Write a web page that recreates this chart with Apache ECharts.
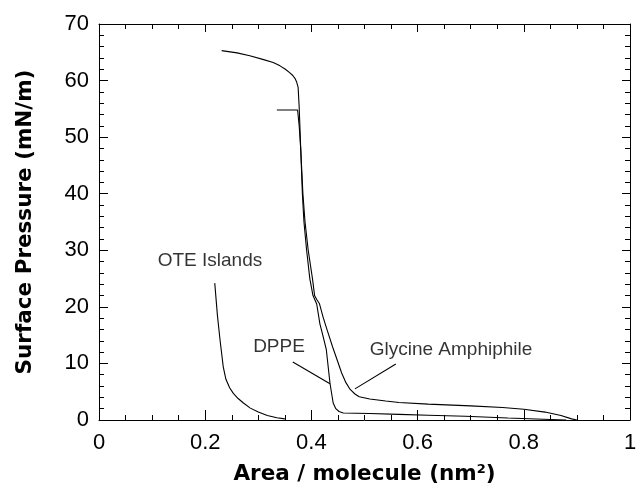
<!DOCTYPE html>
<html><head><meta charset="utf-8">
<script src="https://cdn.jsdelivr.net/npm/echarts/dist/echarts.min.js"></script>
<style>html,body{margin:0;padding:0;background:#fff}#c{width:637px;height:483px}</style>
</head><body><div id="c"></div>
<script>
// Tick values
const xTicks = [0, 0.2, 0.4, 0.6, 0.8, 1];
const yTicks = [0, 10, 20, 30, 40, 50, 60, 70];

// Glycine Amphiphile isotherm
const glyArea     = [0.231,0.26,0.284,0.31,0.328,0.341,0.351,0.359,0.365,0.369,0.372,0.375,0.377,0.380,0.384,0.388,0.394,0.402,0.406,0.41,0.415,0.422,0.43,0.44,0.45,0.457,0.465,0.473,0.482,0.49,0.51,0.54,0.565,0.62,0.7,0.76,0.8,0.84,0.87,0.89,0.9];
const glyPressure = [65.3,64.9,64.4,63.7,63.2,62.6,62.0,61.4,60.9,60.4,59.8,58.8,55.3,47.7,40,35,30,25,22,21.3,20.6,18.2,15.8,12.9,10.2,8.3,6.6,5.4,4.6,4.1,3.7,3.35,3.1,2.8,2.5,2.2,1.9,1.4,0.8,0.2,0];

// DPPE isotherm
const dppeArea     = [0.335,0.374,0.377,0.380,0.383,0.386,0.391,0.397,0.403,0.41,0.416,0.422,0.428,0.435,0.441,0.446,0.452,0.46,0.51,0.565,0.62,0.69,0.77,0.85,0.88];
const dppePressure = [54.8,54.8,52,47.7,40,35,30,25,22,20.5,17,14.8,12.5,6.5,3.0,2.0,1.5,1.25,1.15,1.0,0.85,0.65,0.35,0.1,0];

// OTE Islands isotherm
const oteArea     = [0.218,0.223,0.228,0.234,0.239,0.246,0.253,0.262,0.272,0.285,0.3,0.317,0.335,0.35];
const otePressure = [24.2,18.5,14.1,9.4,7.2,5.7,4.7,3.8,3.0,2.1,1.4,0.8,0.4,0.2];

// Annotations (data coordinates)
const labelText = ['OTE Islands', 'DPPE', 'Glycine Amphiphile'];
const labelArea = [0.209, 0.339, 0.663];
const labelPressure = [28.1, 12.9, 12.4];
const dppeLeaderArea = [0.365, 0.435];
const dppeLeaderPressure = [10.25, 6.4];
const glyLeaderArea = [0.559, 0.482];
const glyLeaderPressure = [9.9, 5.5];

const zip = (a, b) => a.map((v, i) => [v, b[i]]);
const xInt = xTicks[1] - xTicks[0];
const yInt = yTicks[1] - yTicks[0];

const lineBase = {type: 'line', showSymbol: false, symbol: 'none', silent: true,
  lineStyle: {color: '#000', width: 1.1}, animation: false};

function axis(extra) {
  return Object.assign({
    axisLine: {show: true, onZero: false, lineStyle: {color: '#000', width: 1}},
    splitLine: {show: false}
  }, extra);
}

const chart = echarts.init(document.getElementById('c'));
chart.setOption({
  animation: false,
  backgroundColor: '#fff',
  grid: {left: 99, right: 7, top: 24, bottom: 63, containLabel: false, outerBoundsMode: 'none'},
  xAxis: [
    axis({
      type: 'value', position: 'bottom', min: xTicks[0], max: xTicks[xTicks.length-1], interval: xInt,
      axisTick: {show: true, inside: true, length: 10, lineStyle: {color: '#000'}},
      minorTick: {show: true, splitNumber: 4, length: 5, lineStyle: {color: '#000'}},
      axisLabel: {color: '#000', fontSize: 22, fontFamily: 'Liberation Sans', margin: 12},
      name: 'Area / molecule (nm{sup|2})', nameLocation: 'middle', nameGap: 43,
      nameTextStyle: {color: '#000', fontSize: 21.5, fontWeight: 'bold', fontFamily: 'DejaVu Sans',
        rich: {sup: {fontSize: 13, fontWeight: 'bold', fontFamily: 'DejaVu Sans', color: '#000', verticalAlign: 'top', padding: [0,0,10,0]}}}
    }),
    axis({
      type: 'value', position: 'top', min: xTicks[0], max: xTicks[xTicks.length-1], interval: xInt,
      axisTick: {show: true, inside: true, length: 8, lineStyle: {color: '#000'}},
      minorTick: {show: true, splitNumber: 4, length: 5, lineStyle: {color: '#000'}},
      axisLabel: {show: false}
    })
  ],
  yAxis: [
    axis({
      type: 'value', position: 'left', min: yTicks[0], max: yTicks[yTicks.length-1], interval: yInt,
      axisTick: {show: true, inside: true, length: 9, lineStyle: {color: '#000'}},
      minorTick: {show: true, splitNumber: 5, length: 5, lineStyle: {color: '#000'}},
      axisLabel: {color: '#000', fontSize: 22, fontFamily: 'Liberation Sans', margin: 10},
      name: 'Surface Pressure (mN/m)', nameLocation: 'middle', nameGap: 63, nameRotate: 90,
      nameTextStyle: {color: '#000', fontSize: 21.5, fontWeight: 'bold', fontFamily: 'DejaVu Sans'}
    }),
    axis({
      type: 'value', position: 'right', min: yTicks[0], max: yTicks[yTicks.length-1], interval: yInt,
      axisTick: {show: true, inside: true, length: 8, lineStyle: {color: '#000'}},
      minorTick: {show: true, splitNumber: 5, length: 5, lineStyle: {color: '#000'}},
      axisLabel: {show: false}
    })
  ],
  series: [
    Object.assign({}, lineBase, {name: 'Glycine Amphiphile', data: zip(glyArea, glyPressure)}),
    Object.assign({}, lineBase, {name: 'DPPE', data: zip(dppeArea, dppePressure)}),
    Object.assign({}, lineBase, {name: 'OTE Islands', data: zip(oteArea, otePressure)}),
    Object.assign({}, lineBase, {name: 'DPPE leader', data: zip(dppeLeaderArea, dppeLeaderPressure)}),
    Object.assign({}, lineBase, {name: 'Glycine leader', data: zip(glyLeaderArea, glyLeaderPressure)}),
    Object.assign({}, lineBase, {name: 'frame', xAxisIndex: 1, yAxisIndex: 1, data: []}),
    {
      type: 'scatter', silent: true, symbolSize: 0, animation: false,
      data: labelText.map((t, i) => ({value: [labelArea[i], labelPressure[i]], name: t})),
      label: {show: true, position: 'inside', formatter: p => p.name, color: '#000',
        fontSize: 19, fontFamily: 'Liberation Sans'}
    }
  ]
});
</script>
</body></html>
